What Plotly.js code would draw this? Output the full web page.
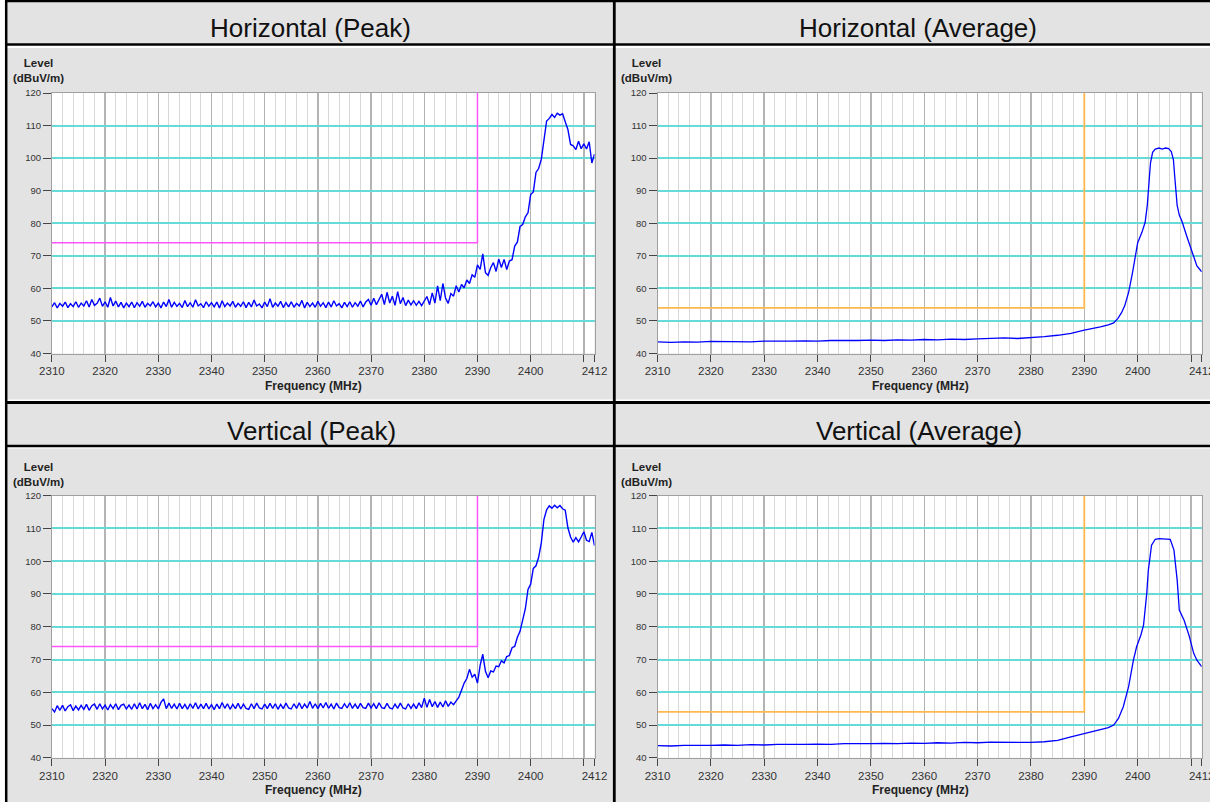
<!DOCTYPE html>
<html>
<head>
<meta charset="utf-8">
<script src="https://cdn.plot.ly/plotly-3.0.1.min.js"></script>
<style>
html,body{margin:0;padding:0;background:#fff;}
#chart{width:1210px;height:802px;}
</style>
</head>
<body>
<div id="chart"></div>
<script>
// ---------------- DATA ----------------
const panelTitles = ['Horizontal (Peak)', 'Horizontal (Average)', 'Vertical (Peak)', 'Vertical (Average)'];
const yAxisLabel = 'Level<br>(dBuV/m)';
const xAxisLabel = 'Frequency (MHz)';

const xTickVals = [2310, 2320, 2330, 2340, 2350, 2360, 2370, 2380, 2390, 2400, 2410, 2412];
const xTickText = ['2310', '2320', '2330', '2340', '2350', '2360', '2370', '2380', '2390', '2400', '', '2412'];
const yTickVals = [40, 50, 60, 70, 80, 90, 100, 110, 120];

// limit lines
const limitFreq = [2310, 2390, 2390];
const peakLimit = [74, 74, 120];
const avgLimit = [54, 54, 120];

// peak sweeps (MHz)
const freqPeak = [
2310,2310.5,2311,2311.5,2312,2312.5,2313,2313.5,2314,2314.5,
2315,2315.5,2316,2316.5,2317,2317.5,2318,2318.5,2319,2319.5,
2320,2320.5,2321,2321.5,2322,2322.5,2323,2323.5,2324,2324.5,
2325,2325.5,2326,2326.5,2327,2327.5,2328,2328.5,2329,2329.5,
2330,2330.5,2331,2331.5,2332,2332.5,2333,2333.5,2334,2334.5,
2335,2335.5,2336,2336.5,2337,2337.5,2338,2338.5,2339,2339.5,
2340,2340.5,2341,2341.5,2342,2342.5,2343,2343.5,2344,2344.5,
2345,2345.5,2346,2346.5,2347,2347.5,2348,2348.5,2349,2349.5,
2350,2350.5,2351,2351.5,2352,2352.5,2353,2353.5,2354,2354.5,
2355,2355.5,2356,2356.5,2357,2357.5,2358,2358.5,2359,2359.5,
2360,2360.5,2361,2361.5,2362,2362.5,2363,2363.5,2364,2364.5,
2365,2365.5,2366,2366.5,2367,2367.5,2368,2368.5,2369,2369.5,
2370,2370.5,2371,2371.5,2372,2372.5,2373,2373.5,2374,2374.5,
2375,2375.5,2376,2376.5,2377,2377.5,2378,2378.5,2379,2379.5,
2380,2380.5,2381,2381.5,2382,2382.5,2383,2383.5,2384,2384.5,
2385,2385.5,2386,2386.5,2387,2387.5,2388,2388.5,2389,2389.5,
2390,2390.5,2391,2391.5,2392,2392.5,2393,2393.5,2394,2394.5,
2395,2395.5,2396,2396.5,2397,2397.5,2398,2398.5,2399,2399.5,
2400,2400.5,2401,2401.5,2402,2402.5,2403,2403.5,2404,2404.5,
2405,2405.5,2406,2406.5,2407,2407.5,2408,2408.5,2409,2409.5,
2410,2410.5,2411,2411.5,2412
];

// Horizontal peak level (dBuV/m)
const hPeakLevel = [
54.3,55.6,54.0,55.4,54.5,55.8,54.1,55.3,54.4,55.9,
54.2,55.5,54.6,56.2,54.3,56.6,54.8,55.4,57.0,54.5,
55.9,54.2,57.2,54.6,56.1,54.3,55.7,54.0,55.5,54.4,
55.8,54.1,55.6,54.5,56.0,54.2,55.4,54.6,55.9,54.3,
55.5,54.0,55.8,54.4,56.6,54.2,55.7,54.5,55.4,54.1,
56.3,54.4,55.6,54.2,56.5,54.6,55.3,54.1,55.9,54.5,
55.6,54.3,55.8,54.0,56.2,54.4,55.5,54.6,56.0,54.2,
55.4,54.5,55.9,54.1,55.7,54.3,56.4,54.6,55.2,54.0,
55.8,54.4,56.8,54.2,55.5,54.5,56.0,54.1,55.6,54.3,
55.9,54.2,55.4,54.6,56.3,54.0,55.7,54.4,55.5,54.2,
56.0,54.5,55.6,54.1,55.8,54.3,56.2,54.6,55.3,54.0,
55.7,54.4,55.9,54.2,55.6,54.5,56.1,54.3,55.8,56.6,
54.8,57.0,55.0,56.4,58.2,55.0,58.8,55.5,57.6,54.8,
59.0,55.3,57.2,54.7,56.4,54.9,56.2,54.8,56.0,54.7,
56.2,57.5,55.0,58.6,55.5,60.8,56.2,61.5,57.0,55.4,
58.4,57.6,60.8,58.9,61.2,60.2,62.6,61.5,64.2,63.4,
67.2,65.8,70.6,64.8,64.0,66.4,67.9,65.2,69.0,66.4,
68.9,65.8,68.4,68.8,73.0,74.2,79.0,79.6,82.0,83.2,
88.8,89.6,95.6,96.8,99.6,105.5,111.4,112.2,113.4,112.5,
113.8,113.2,113.6,111.2,108.8,104.2,103.8,102.6,105.2,102.9,
104.4,102.8,105.0,98.5,101.2
];

// Vertical peak level (dBuV/m)
const vPeakLevel = [
55.0,54.0,55.9,54.5,56.0,54.3,55.6,56.2,54.4,55.8,
54.6,56.0,54.8,56.3,54.5,55.9,56.4,54.8,56.5,54.9,
56.1,54.6,56.2,55.0,56.5,54.7,56.0,56.4,54.9,56.1,
54.8,56.5,54.9,56.8,55.0,56.3,54.7,56.6,55.0,56.2,
54.9,56.9,58.0,55.0,56.7,55.1,56.4,54.9,56.6,55.0,
56.3,54.8,56.5,55.1,56.8,54.9,56.4,55.0,56.6,54.9,
56.2,54.7,56.4,55.0,56.9,55.1,56.5,54.8,56.3,55.0,
56.6,54.9,56.4,55.1,54.8,56.5,55.0,56.7,55.2,54.9,
56.4,55.0,56.6,55.1,56.5,54.8,56.3,55.0,56.7,55.2,
54.9,56.5,55.1,56.8,55.0,56.4,55.2,57.2,55.1,56.5,
55.0,56.6,55.2,56.9,55.1,56.4,54.9,56.7,55.3,55.1,
56.5,55.2,56.8,55.1,56.4,55.0,56.6,55.3,55.1,56.7,
55.2,56.5,55.0,56.8,55.3,55.1,56.6,55.2,54.9,56.4,
55.1,56.7,55.2,54.9,56.5,55.1,56.4,55.0,56.8,55.3,
58.2,55.4,57.8,55.6,57.2,55.4,57.0,55.5,57.4,55.7,
57.0,56.2,57.4,58.5,60.6,62.8,64.2,67.0,64.6,65.5,
62.8,68.2,71.6,66.4,64.4,66.5,66.2,68.0,67.8,69.6,
69.0,70.9,71.2,73.6,74.0,76.8,78.6,82.0,85.5,91.4,
93.0,97.8,98.6,101.2,105.6,112.8,115.7,116.9,116.2,117.1,
116.3,117.0,116.0,115.6,110.2,107.4,105.8,107.2,105.9,107.4,
109.0,106.4,106.0,108.8,104.8
];

// Horizontal average
const freqAvgH = [
2310,2312.5,2315,2317.5,2320,2322.5,2325,2327.5,2330,2332.5,
2335,2337.5,2340,2342.5,2345,2347.5,2350,2352.5,2355,2357.5,
2360,2362.5,2365,2367.5,2370,2372.5,2375,2377.5,2380,2382.5,
2385,2387.5,2390,2391.5,2393,2394.5,2395.5,2396.3,2397,2397.6,
2398.3,2399,2399.5,2400,2400.8,2401.4,2401.8,2402.1,2402.4,2402.8,
2403.3,2404,2404.6,2405.2,2405.8,2406.3,2406.7,2407,2407.4,2407.8,
2408.3,2409.2,2410.2,2411.1,2412
];
const hAvgLevel = [
43.6,43.4,43.6,43.5,43.7,43.6,43.7,43.6,43.8,43.7,
43.8,43.9,43.8,44.0,43.9,44.0,44.1,44.0,44.2,44.1,
44.3,44.2,44.4,44.3,44.5,44.6,44.8,44.6,44.8,45.2,
45.6,46.2,47.2,47.6,48.2,48.8,49.4,50.8,52.6,54.8,
58.8,64.5,69.5,74.0,77.2,80.3,85.5,92.5,98.5,101.8,
102.8,103.1,102.8,103.1,102.9,102.0,99.5,93.3,85.5,82.5,
80.6,76.0,71.0,66.9,65.1
];

// Vertical average
const freqAvgV = [
2310,2312.5,2315,2317.5,2320,2322.5,2325,2327.5,2330,2332.5,
2335,2337.5,2340,2342.5,2345,2347.5,2350,2352.5,2355,2357.5,
2360,2362.5,2365,2367.5,2370,2372.5,2375,2377.5,2380,2382.5,
2385,2387.5,2390,2391.5,2393,2394.5,2395.5,2396.4,2397.3,2398.3,
2399.2,2399.8,2400.6,2401.1,2401.7,2402,2402.6,2403.3,2404,2405,
2406.1,2406.8,2407.4,2407.8,2408.7,2409.6,2410.5,2411.1,2412
];
const vAvgLevel = [
43.7,43.6,43.8,43.7,43.8,43.9,43.8,44.0,43.9,44.1,
44.0,44.1,44.2,44.1,44.3,44.2,44.3,44.4,44.3,44.5,
44.4,44.6,44.5,44.7,44.6,44.8,44.7,44.8,44.7,44.9,
45.3,46.4,47.4,47.8,48.4,49.2,50.0,52.0,55.6,61.7,
69.8,73.9,77.5,80.5,90.2,97.3,104.9,106.7,106.9,106.7,
106.7,103.4,94.3,85.1,82.0,77.5,71.9,69.8,67.8
];

// ---------------- LAYOUT HELPERS ----------------
const W = 1210, H = 802;
const px = x => x / W;
const py = y => 1 - y / H;
const FONT = "'Liberation Sans', Arial, Helvetica, sans-serif";

const xDomL = [px(51.9), px(594.5)];
const xDomR = [px(657.5), px(1201.7)];
const yDomT = [py(353.5), py(93)];
const yDomB = [py(757.8), py(495.7)];

function xAxis(domain, anchor) {
  return {
    domain: domain, anchor: anchor, range: [2310, 2412], fixedrange: true,
    tickmode: 'array', tickvals: xTickVals, ticktext: xTickText,
    ticks: 'outside', ticklen: 7, tickwidth: 1, tickcolor: '#444',
    tickfont: {family: FONT, size: 11.5, color: '#333'},
    ticklabeloverflow: 'allow',
    showgrid: true, gridcolor: '#b4b4b4', gridwidth: 1.5,
    minor: {tickmode: 'linear', tick0: 2310, dtick: 2, showgrid: true, gridcolor: '#d8d8d8', gridwidth: 1, ticks: ''},
    showline: true, linecolor: '#a0a0a0', linewidth: 1, mirror: true,
    zeroline: false
  };
}
function yAxis(domain, anchor) {
  return {
    domain: domain, anchor: anchor, range: [40, 120], fixedrange: true,
    tickmode: 'array', tickvals: yTickVals,
    ticks: 'outside', ticklen: 8, tickwidth: 1, tickcolor: '#444',
    tickfont: {family: FONT, size: 9.5, color: '#333'},
    showgrid: true, gridcolor: '#66d9d9', gridwidth: 2,
    showline: true, linecolor: '#a0a0a0', linewidth: 1, mirror: true,
    zeroline: false
  };
}

const blue = '#0000ff';
const traces = [
  {x: limitFreq, y: peakLimit, xaxis: 'x', yaxis: 'y', mode: 'lines', line: {color: '#ff55ff', width: 1.5}, hoverinfo: 'skip'},
  {x: freqPeak, y: hPeakLevel, xaxis: 'x', yaxis: 'y', mode: 'lines', line: {color: blue, width: 1.4}},
  {x: limitFreq, y: avgLimit, xaxis: 'x2', yaxis: 'y2', mode: 'lines', line: {color: '#ffb84d', width: 1.8}, hoverinfo: 'skip'},
  {x: freqAvgH, y: hAvgLevel, xaxis: 'x2', yaxis: 'y2', mode: 'lines', line: {color: blue, width: 1.3}},
  {x: limitFreq, y: peakLimit, xaxis: 'x3', yaxis: 'y3', mode: 'lines', line: {color: '#ff55ff', width: 1.5}, hoverinfo: 'skip'},
  {x: freqPeak, y: vPeakLevel, xaxis: 'x3', yaxis: 'y3', mode: 'lines', line: {color: blue, width: 1.4}},
  {x: limitFreq, y: avgLimit, xaxis: 'x4', yaxis: 'y4', mode: 'lines', line: {color: '#ffb84d', width: 1.8}, hoverinfo: 'skip'},
  {x: freqAvgV, y: vAvgLevel, xaxis: 'x4', yaxis: 'y4', mode: 'lines', line: {color: blue, width: 1.3}}
];

const GRAY = '#e3e3e3';
function rect(x0, y0, x1, y1, color) {
  return {type: 'rect', xref: 'paper', yref: 'paper', x0: px(x0), x1: px(x1), y0: py(y1), y1: py(y0),
          fillcolor: color, line: {width: 0}, layer: 'below'};
}
function hline(y, x0, x1, w) {
  return {type: 'line', xref: 'paper', yref: 'paper', x0: px(x0), x1: px(x1), y0: py(y), y1: py(y),
          line: {color: '#000', width: w}, layer: 'below'};
}
function vline(x, y0, y1, w) {
  return {type: 'line', xref: 'paper', yref: 'paper', x0: px(x), x1: px(x), y0: py(y0), y1: py(y1),
          line: {color: '#000', width: w}, layer: 'below'};
}
function plotBg(xr, yr) {
  return {type: 'rect', xref: xr + ' domain', yref: yr + ' domain', x0: 0, x1: 1, y0: 0, y1: 1,
          fillcolor: '#ffffff', line: {width: 0}, layer: 'below'};
}

const shapes = [
  rect(7, 2, 1210, 43.5, GRAY),
  rect(7, 48, 1210, 399.5, GRAY),
  rect(7, 404, 1210, 445, GRAY),
  rect(7, 448.5, 1210, 802, GRAY),
  plotBg('x', 'y'), plotBg('x2', 'y2'), plotBg('x3', 'y3'), plotBg('x4', 'y4'),
  hline(1, 5, 1210, 2.5),
  hline(44.5, 5, 1210, 2.5),
  hline(402.5, 5, 1210, 3),
  hline(446, 5, 1210, 2.5),
  vline(6.2, 0, 802, 2.5),
  vline(614.3, 0, 802, 2.8)
];

function ann(text, x, y, size, bold) {
  return {text: bold ? '<b>' + text + '</b>' : text, xref: 'paper', yref: 'paper', x: px(x), y: py(y),
          xanchor: 'center', yanchor: 'middle', showarrow: false, align: 'center',
          font: {family: FONT, size: size, color: bold ? '#222' : '#111'}};
}

const annotations = [
  ann(panelTitles[0], 310.5, 27.5, 26, false),
  ann(panelTitles[1], 918, 27.5, 26, false),
  ann(panelTitles[2], 311.5, 431, 26, false),
  ann(panelTitles[3], 919, 431, 26, false),
  ann(yAxisLabel, 38.5, 71, 11.5, true),
  ann(yAxisLabel, 647, 71, 11.5, true),
  ann(yAxisLabel, 38.5, 474, 11.5, true),
  ann(yAxisLabel, 647, 474, 11.5, true),
  ann(xAxisLabel, 313, 386, 12, true),
  ann(xAxisLabel, 920, 386, 12, true),
  ann(xAxisLabel, 313, 790, 12, true),
  ann(xAxisLabel, 920, 790, 12, true)
];

const layout = {
  width: W, height: H, margin: {l: 0, r: 0, t: 0, b: 0, pad: 0},
  paper_bgcolor: '#ffffff', plot_bgcolor: 'rgba(0,0,0,0)',
  showlegend: false, font: {family: FONT},
  xaxis: xAxis(xDomL, 'y'), yaxis: yAxis(yDomT, 'x'),
  xaxis2: xAxis(xDomR, 'y2'), yaxis2: yAxis(yDomT, 'x2'),
  xaxis3: xAxis(xDomL, 'y3'), yaxis3: yAxis(yDomB, 'x3'),
  xaxis4: xAxis(xDomR, 'y4'), yaxis4: yAxis(yDomB, 'x4'),
  shapes: shapes, annotations: annotations
};

Plotly.newPlot('chart', traces, layout, {displayModeBar: false, staticPlot: true});
</script>
</body>
</html>
